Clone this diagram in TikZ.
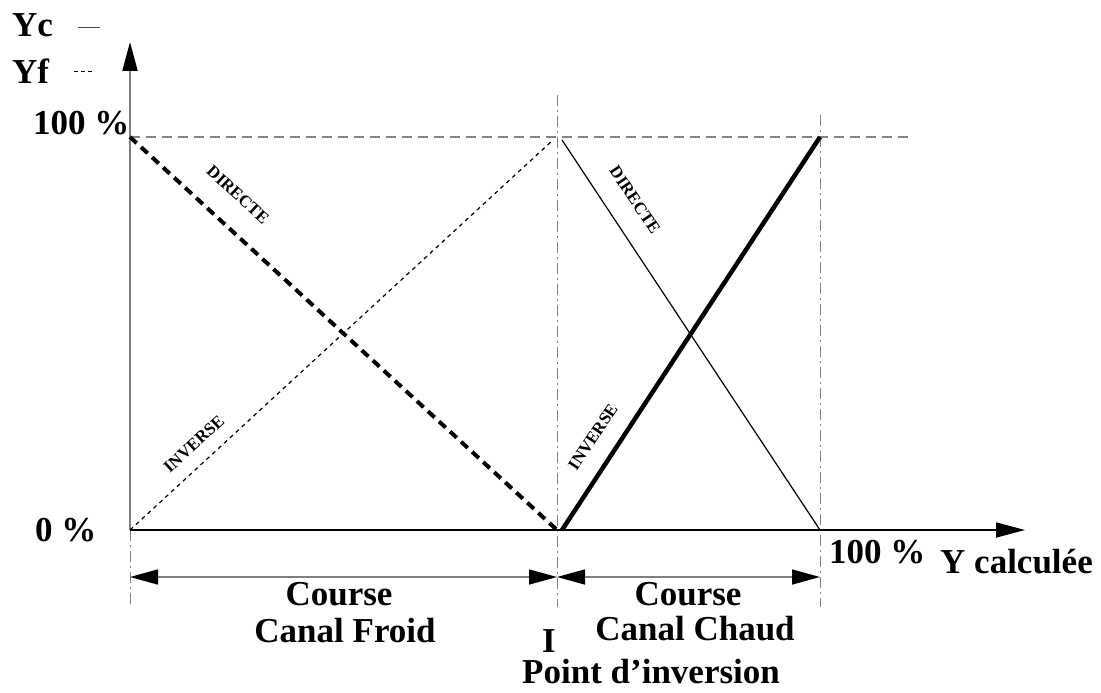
\documentclass[tikz,border=0pt]{standalone}
\usepackage{fontspec}
\setmainfont{Liberation Serif}
\usetikzlibrary{arrows.meta}

\tikzset{
  big/.style={font=\fontsize{35}{40}\selectfont\bfseries, inner sep=0pt},
  tag/.style={font=\fontsize{17}{19}\selectfont\bfseries, inner sep=0pt},
  head/.style={-{Triangle[length=29pt,width=15pt,color=black]}},
  twohead/.style={{Triangle[length=28pt,width=15pt,color=black]}-{Triangle[length=28pt,width=15pt,color=black]}},
  guide/.style={draw=gray, line width=1.2pt, dash pattern=on 10pt off 6pt},
  dashdot/.style={draw=gray, line width=1pt, dash pattern=on 11pt off 4pt on 2pt off 4pt},
  coldfull/.style={line width=4pt, dash pattern=on 9pt off 6pt},
  coldthin/.style={line width=1.2pt, dash pattern=on 4pt off 4pt},
  hotthin/.style={line width=1.2pt},
  hotfull/.style={line width=4.5pt},
}

\begin{document}
\begin{tikzpicture}[x=1pt,y=-1pt]
\useasboundingbox (0,0) rectangle (1101,693);

% key points of the chart
\coordinate (O)    at (130,530);
\coordinate (Ytip) at (130,42);
\coordinate (Xtip) at (1025,530);
\coordinate (H0)   at (130,137);
\coordinate (Hend) at (910,137);
\coordinate (I0)   at (557,530);
\coordinate (Ia)   at (553,140);
\coordinate (Ib)   at (562,140);
\coordinate (Ic)   at (562,530);
\coordinate (E0)   at (820,530);
\coordinate (Etop) at (820,137);
\coordinate (Iup)  at (557,95);
\coordinate (Eup)  at (820,115);
\coordinate (Odn)  at (130,607);
\coordinate (Idn)  at (557,607);
\coordinate (Edn)  at (820,607);
\coordinate (DL)   at (130,577);
\coordinate (DM)   at (557,577);
\coordinate (DR)   at (820,577);

% guide lines
\draw[guide] (H0) -- (Hend);
\draw[dashdot] (Iup) -- (Idn);
\draw[dashdot] (Eup) -- (Edn);
\draw[dashdot] (O) -- (Odn);

% axes
\draw[draw=gray, line width=2pt, head] (O) -- (Ytip);
\draw[line width=1.5pt, head] (O) -- (Xtip);

% cold channel (Yf) and hot channel (Yc)
\draw[coldfull] (H0) -- (I0);
\draw[coldthin] (O) -- (Ia);
\draw[hotthin] (Ib) -- (E0);
\draw[hotfull] (Ic) -- (Etop);

% travel ranges
\draw[draw=gray, line width=1.5pt, twohead] (DL) -- (DM);
\draw[draw=gray, line width=1.5pt, twohead] (DM) -- (DR);

% legend
\node[big, anchor=base west] (yc) at (12,37) {Yc};
\node[big, anchor=base west] (yf) at (12,84) {Yf};
\coordinate (lc1) at (78,28);  \coordinate (lc2) at (100,28);
\coordinate (lf1) at (74,72);  \coordinate (lf2) at (95,72);
\draw[line width=1pt, draw=black!70] (lc1) -- (lc2);
\draw[line width=1pt, dash pattern=on 4pt off 3pt] (lf1) -- (lf2);

% scale labels
\node[big, anchor=base west] (p100) at (33,135) {100 \%};
\node[big, anchor=base west] (p0) at (35,541) {0 \%};
\node[big, anchor=base west] (q100) at (829,563) {100 \%};
\node[big, anchor=base west] (ycalc) at (940,573) {Y calculée};

% range labels
\node[big, anchor=base] (c1) at (339,605) {Course};
\node[big, anchor=base] (c2) at (345,642) {Canal Froid};
\node[big, anchor=base] (c3) at (688,605) {Course};
\node[big, anchor=base] (c4) at (695,640) {Canal Chaud};
\node[big, anchor=base] (ip) at (549,652) {I};
\node[big, anchor=base west] (pi) at (522,683) {Point d’inversion};

% line tags
\node[tag, rotate=-42.6] (d1) at (238,195) {DIRECTE};
\node[tag, rotate=-56.3] (d2) at (635,200) {DIRECTE};
\node[tag, rotate=42.6] (i1) at (194,444) {INVERSE};
\node[tag, rotate=56.3] (i2) at (593,437) {INVERSE};
\end{tikzpicture}
\end{document}
